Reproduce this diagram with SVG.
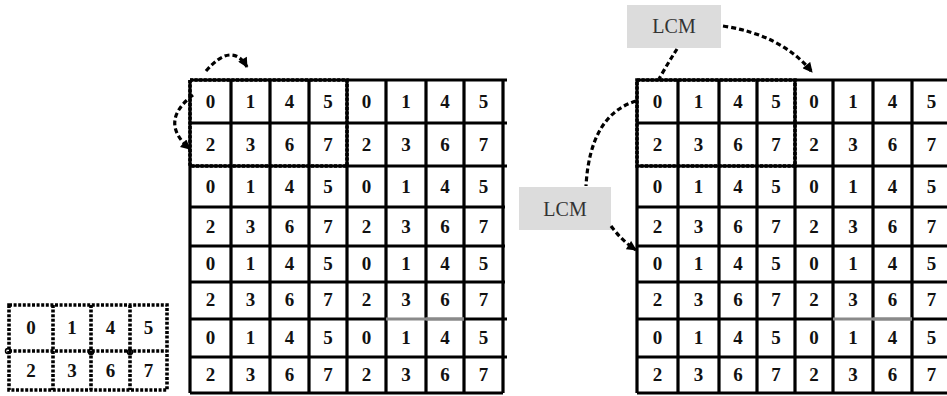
<svg xmlns="http://www.w3.org/2000/svg" width="947" height="396" viewBox="0 0 947 396">
  <style>
    .grid { fill: none; stroke: #000; stroke-width: 3.2; }
    .tile { fill: none; stroke: #000; stroke-width: 3.6; stroke-dasharray: 3 1.6; }
    .num { font-family: "Liberation Serif", "DejaVu Serif", serif; font-weight: bold; font-size: 19px; text-anchor: middle; fill: #111; }
    .lbl { font-family: "Liberation Serif", "Times New Roman", serif; font-size: 20px; text-anchor: middle; fill: #333; }
    .box { fill: #dcdcdc; stroke: none; }
    .link { fill: none; stroke: #000; stroke-width: 3.2; stroke-dasharray: 5 3; }
    .faint { stroke: #8a8a8a; stroke-width: 3; }
  </style>
  <defs>
    <marker id="head" viewBox="0 0 10 10" refX="9" refY="5" markerWidth="11" markerHeight="10" markerUnits="userSpaceOnUse" orient="auto">
      <path d="M0,0 L10,5 L0,10 z" fill="#000"/>
    </marker>
  </defs>

  <rect width="947" height="396" fill="#fff"/>

  <!-- 2x4 tile with dashed borders -->
  <g id="tile">
    <path class="tile" d="M9,305 H167 V390 H9 Z M9,351 H167 M53,305 V390 M91,305 V390 M130,305 V390"/>
    <circle cx="8" cy="351" r="2.5" fill="none" stroke="#000" stroke-width="1.5"/>
    <circle cx="91" cy="352" r="2.5" fill="none" stroke="#000" stroke-width="1.5"/>
    <circle cx="130" cy="352" r="2.5" fill="none" stroke="#000" stroke-width="1.5"/>
    <text class="num" x="31" y="334">0</text>
    <text class="num" x="72" y="334">1</text>
    <text class="num" x="110.5" y="334">4</text>
    <text class="num" x="148.5" y="334">5</text>
    <text class="num" x="31" y="377">2</text>
    <text class="num" x="72" y="377">3</text>
    <text class="num" x="110.5" y="377">6</text>
    <text class="num" x="148.5" y="377">7</text>
  </g>

  <!-- 8x8 tiled array (middle) -->
  <g id="array-left">
    <path class="grid" d="M190,80 V393 M231,80 V393 M270,80 V393 M309,80 V393 M347,80 V393 M386,80 V393 M426,80 V393 M464,80 V393 M503,80 V393"/>
    <path class="grid" d="M190,80 H507 M190,123 H507 M190,166 H507 M190,207 H505 M190,246 H505 M190,282 H505 M190,319 H386 M464,319 H507 M190,357 H507 M190,393 H503"/>
    <path class="faint" d="M386,319 H464" stroke-width="2"/>
    <path class="faint" d="M426,319 H464"/>
    <rect class="tile" x="190" y="80" width="157" height="86"/>
    <g>
      <text class="num" x="210.5" y="108">0</text><text class="num" x="250.5" y="108">1</text><text class="num" x="289.5" y="108">4</text><text class="num" x="328" y="108">5</text>
      <text class="num" x="366.5" y="108">0</text><text class="num" x="406" y="108">1</text><text class="num" x="445" y="108">4</text><text class="num" x="483.5" y="108">5</text>
      <text class="num" x="210.5" y="151">2</text><text class="num" x="250.5" y="151">3</text><text class="num" x="289.5" y="151">6</text><text class="num" x="328" y="151">7</text>
      <text class="num" x="366.5" y="151">2</text><text class="num" x="406" y="151">3</text><text class="num" x="445" y="151">6</text><text class="num" x="483.5" y="151">7</text>
      <text class="num" x="210.5" y="193">0</text><text class="num" x="250.5" y="193">1</text><text class="num" x="289.5" y="193">4</text><text class="num" x="328" y="193">5</text>
      <text class="num" x="366.5" y="193">0</text><text class="num" x="406" y="193">1</text><text class="num" x="445" y="193">4</text><text class="num" x="483.5" y="193">5</text>
      <text class="num" x="210.5" y="233">2</text><text class="num" x="250.5" y="233">3</text><text class="num" x="289.5" y="233">6</text><text class="num" x="328" y="233">7</text>
      <text class="num" x="366.5" y="233">2</text><text class="num" x="406" y="233">3</text><text class="num" x="445" y="233">6</text><text class="num" x="483.5" y="233">7</text>
      <text class="num" x="210.5" y="270">0</text><text class="num" x="250.5" y="270">1</text><text class="num" x="289.5" y="270">4</text><text class="num" x="328" y="270">5</text>
      <text class="num" x="366.5" y="270">0</text><text class="num" x="406" y="270">1</text><text class="num" x="445" y="270">4</text><text class="num" x="483.5" y="270">5</text>
      <text class="num" x="210.5" y="306">2</text><text class="num" x="250.5" y="306">3</text><text class="num" x="289.5" y="306">6</text><text class="num" x="328" y="306">7</text>
      <text class="num" x="366.5" y="306">2</text><text class="num" x="406" y="306">3</text><text class="num" x="445" y="306">6</text><text class="num" x="483.5" y="306">7</text>
      <text class="num" x="210.5" y="344">0</text><text class="num" x="250.5" y="344">1</text><text class="num" x="289.5" y="344">4</text><text class="num" x="328" y="344">5</text>
      <text class="num" x="366.5" y="344">0</text><text class="num" x="406" y="344">1</text><text class="num" x="445" y="344">4</text><text class="num" x="483.5" y="344">5</text>
      <text class="num" x="210.5" y="381">2</text><text class="num" x="250.5" y="381">3</text><text class="num" x="289.5" y="381">6</text><text class="num" x="328" y="381">7</text>
      <text class="num" x="366.5" y="381">2</text><text class="num" x="406" y="381">3</text><text class="num" x="445" y="381">6</text><text class="num" x="483.5" y="381">7</text>
    </g>
  </g>

  <!-- 8x8 tiled array (right, clipped at the edge) -->
  <g id="array-right">
    <path class="grid" d="M637,80 V393 M678,80 V393 M719,80 V393 M757,80 V393 M795,80 V393 M833,80 V393 M873,80 V393 M912,80 V393 M951,80 V393"/>
    <path class="grid" d="M637,80 H951 M637,123 H951 M637,166 H951 M637,207 H951 M637,246 H951 M637,282 H951 M637,319 H833 M912,319 H951 M637,357 H951 M637,393 H951"/>
    <path class="faint" d="M833,319 H912" stroke-width="2"/>
    <path class="faint" d="M873,319 H912"/>
    <rect class="tile" x="637" y="80" width="158" height="86"/>
    <g>
      <text class="num" x="657.5" y="108">0</text><text class="num" x="698.5" y="108">1</text><text class="num" x="738" y="108">4</text><text class="num" x="776" y="108">5</text>
      <text class="num" x="814" y="108">0</text><text class="num" x="853" y="108">1</text><text class="num" x="892.5" y="108">4</text><text class="num" x="931.5" y="108">5</text>
      <text class="num" x="657.5" y="151">2</text><text class="num" x="698.5" y="151">3</text><text class="num" x="738" y="151">6</text><text class="num" x="776" y="151">7</text>
      <text class="num" x="814" y="151">2</text><text class="num" x="853" y="151">3</text><text class="num" x="892.5" y="151">6</text><text class="num" x="931.5" y="151">7</text>
      <text class="num" x="657.5" y="193">0</text><text class="num" x="698.5" y="193">1</text><text class="num" x="738" y="193">4</text><text class="num" x="776" y="193">5</text>
      <text class="num" x="814" y="193">0</text><text class="num" x="853" y="193">1</text><text class="num" x="892.5" y="193">4</text><text class="num" x="931.5" y="193">5</text>
      <text class="num" x="657.5" y="233">2</text><text class="num" x="698.5" y="233">3</text><text class="num" x="738" y="233">6</text><text class="num" x="776" y="233">7</text>
      <text class="num" x="814" y="233">2</text><text class="num" x="853" y="233">3</text><text class="num" x="892.5" y="233">6</text><text class="num" x="931.5" y="233">7</text>
      <text class="num" x="657.5" y="270">0</text><text class="num" x="698.5" y="270">1</text><text class="num" x="738" y="270">4</text><text class="num" x="776" y="270">5</text>
      <text class="num" x="814" y="270">0</text><text class="num" x="853" y="270">1</text><text class="num" x="892.5" y="270">4</text><text class="num" x="931.5" y="270">5</text>
      <text class="num" x="657.5" y="306">2</text><text class="num" x="698.5" y="306">3</text><text class="num" x="738" y="306">6</text><text class="num" x="776" y="306">7</text>
      <text class="num" x="814" y="306">2</text><text class="num" x="853" y="306">3</text><text class="num" x="892.5" y="306">6</text><text class="num" x="931.5" y="306">7</text>
      <text class="num" x="657.5" y="344">0</text><text class="num" x="698.5" y="344">1</text><text class="num" x="738" y="344">4</text><text class="num" x="776" y="344">5</text>
      <text class="num" x="814" y="344">0</text><text class="num" x="853" y="344">1</text><text class="num" x="892.5" y="344">4</text><text class="num" x="931.5" y="344">5</text>
      <text class="num" x="657.5" y="381">2</text><text class="num" x="698.5" y="381">3</text><text class="num" x="738" y="381">6</text><text class="num" x="776" y="381">7</text>
      <text class="num" x="814" y="381">2</text><text class="num" x="853" y="381">3</text><text class="num" x="892.5" y="381">6</text><text class="num" x="931.5" y="381">7</text>
    </g>
  </g>

  <!-- LCM labels -->
  <g id="lcm-top">
    <rect class="box" x="627" y="5" width="94" height="43"/>
    <text class="lbl" x="674" y="33">LCM</text>
  </g>
  <g id="lcm-side">
    <rect class="box" x="519" y="187" width="92" height="43"/>
    <text class="lbl" x="565" y="216">LCM</text>
  </g>

  <!-- dashed shift connectors -->
  <g id="connectors">
    <path class="link" d="M206,71 Q232,41 247,67" marker-end="url(#head)"/>
    <path class="link" d="M193,95 Q158,122 190,149" marker-end="url(#head)"/>
    <path class="link" d="M677,49 Q668,63 659,79"/>
    <path class="link" d="M723,26 Q782,35 812,72" marker-end="url(#head)"/>
    <path class="link" d="M636,101 Q590,115 586,186"/>
    <path class="link" d="M611,226 Q622,241 636,250" marker-end="url(#head)"/>
  </g>
</svg>
